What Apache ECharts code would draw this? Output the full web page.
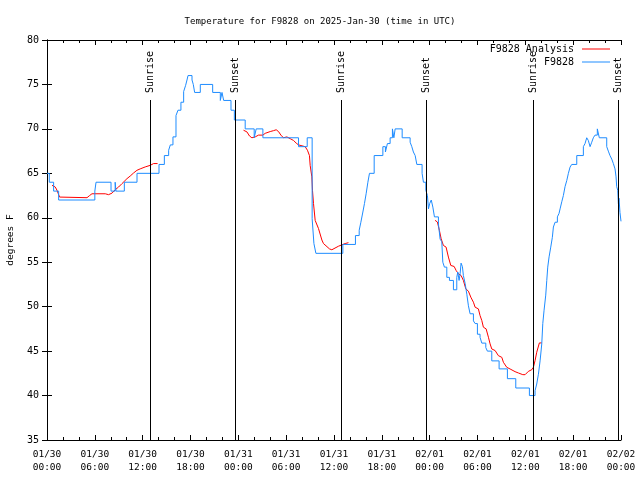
<!DOCTYPE html>
<html>
<head>
<meta charset="utf-8">
<script src="https://cdn.jsdelivr.net/npm/echarts@6/dist/echarts.min.js"></script>
<style>html,body{margin:0;padding:0;background:#fff;}#chart{width:640px;height:480px;}</style>
</head>
<body>
<div id="chart"></div>
<script>
// ---- data (hours since 2025-01-30 00:00 UTC, degrees F) ----
const stationHours = [0,0.29,0.83,1.46,6.0,6.15,8.03,8.55,8.65,9.7,11.29,14.05,14.72,15.26,15.47,15.8,16.18,16.43,16.8,17.14,17.39,17.56,17.69,18.19,18.35,18.52,19.23,20.78,21.74,21.95,22.16,23.08,23.5,
24.86,25.99,26.24,27.08,31.55,32.64,33.26,33.48,33.73,37.11,38.69,39.16,39.37,39.62,39.82,40.03,40.25,40.45,41.04,42.13,42.45,42.7,43.04,43.33,43.51,43.67,44.55,45.55,45.76,45.96,46.18,46.39,47.05,47.22,47.52,47.72,
47.85,48.0,48.2,48.4,48.6,49.1,49.31,49.52,49.65,49.85,50.15,50.48,50.98,51.4,51.53,51.69,51.82,51.94,52.11,52.23,52.45,52.66,52.86,53.07,53.49,53.7,53.99,54.32,54.54,55.04,55.24,55.79,56.71,57.75,58.8,60.51,
61.22,61.43,61.64,61.85,62.06,62.19,62.35,62.56,62.69,62.81,62.98,63.19,63.39,63.52,63.73,64.02,64.23,64.36,64.57,64.77,64.98,65.2,65.4,65.61,65.82,66.45,67.28,67.49,67.7,67.9,68.12,68.33,68.53,68.74,69.03,69.28,
70.21,70.41,70.62,70.84,71.04,71.25,71.38,71.46,71.59,71.67,71.75,71.87,72.0];
const stationTemps = [65,64,63,62,63,64,63,64,63,64,65,66,67,67.6,68.2,69.1,71.5,72.1,73.0,74.2,74.9,75.5,76,75.5,75.0,74.1,75,74.1,73.2,74.1,73.2,72.1,71,
70,69,70,69,68,69,59.9,57.1,56,57,58,58.6,59.5,60.65,61.6,62.7,64,65,67,68,67.4,68.35,69,70,69,70,69,68.5,68,67.4,67,66,65,64,63.1,62.5,
61.0,61.6,62.0,61.2,60.1,59.3,57.6,57.3,55.0,54.45,53.3,52.95,51.9,53.3,53.9,52.95,53.7,54.9,54.5,53.5,52.6,51.4,50.1,49.2,48.4,48.1,46.9,46.55,45.9,45.4,45.0,43.9,43.0,41.9,40.85,40.0,
40.55,41.3,42.4,43.9,45.8,48.1,49.6,51.3,52.95,54.45,55.6,56.7,57.8,58.96,59.5,60.1,60.5,61.0,61.8,62.5,63.5,64.2,65,65.7,66,67,68,68.35,69,68.7,68,68.5,69,69.3,70,69,
68,67.5,67,66.6,66.1,65.5,64.6,63.5,63.1,61.6,62.2,60.6,59.6];

const analysisHours = [0.63,1.04,1.25,1.58,1.76,5.02,5.34,5.64,7.31,7.72,8.15,8.56,8.98,9.4,10.03,10.44,10.86,11.28,11.69,12.32,12.95,13.37,13.87,
19.0,
24.65,25.08,25.4,25.7,26.12,26.53,27.08,27.37,28.0,28.41,28.75,29.04,29.34,29.66,30.09,30.5,30.92,31.26,31.54,32.38,32.67,32.92,33.01,33.22,33.3,33.43,33.64,34.05,34.48,34.68,35.43,35.73,36.56,37.4,37.81,
43.0,
48.68,48.97,49.22,49.44,49.72,50.06,50.35,50.65,51.07,51.32,51.6,51.94,52.23,52.53,52.86,53.16,53.49,53.7,54.11,54.32,54.54,54.74,55.08,55.37,55.58,55.79,56.21,56.62,57.05,57.25,57.67,58.09,58.71,59.13,59.68,59.97,60.38,60.81,61.01,61.22,61.43,61.76,62.06];
const analysisTemps = [63.65,63.46,63.1,62.33,62.26,62.26,62.5,62.7,62.7,62.6,62.77,63.16,63.46,63.84,64.4,64.7,65.04,65.34,65.5,65.72,65.9,66.1,66.1,
null,
69.85,69.66,69.2,69.0,69.1,69.3,69.3,69.5,69.7,69.8,69.9,69.7,69.3,69.0,69.1,68.9,68.7,68.4,68.2,68.0,67.6,67.0,65.9,64.6,63.1,61.6,59.7,58.8,57.5,57.1,56.5,56.4,56.8,57.1,57.2,
null,
59.71,59.52,58.58,57.64,56.89,56.70,55.58,54.64,54.52,54.07,53.70,53.51,52.95,52.01,51.74,51.07,50.50,49.94,49.75,49.0,48.44,47.69,47.50,46.56,45.81,45.24,45.06,44.49,44.30,43.74,43.18,42.99,42.69,42.54,42.35,42.35,42.72,42.91,43.18,43.93,44.87,45.92,45.92];

const sunHours = [12.95, 23.52, 36.94, 47.6, 61.0, 71.63];
const sunNames = ['Sunrise','Sunset','Sunrise','Sunset','Sunrise','Sunset'];

const xMin = 0, xMax = 72, xStep = 6;
const yMin = 35, yMax = 80, yStep = 5;
const baseMs = Date.UTC(2025, 0, 30);

// ---- chart ----
const FONT = '"DejaVu Sans Mono", monospace';
function pad(n){ return (n < 10 ? '0' : '') + n; }
function fmtHour(h){
  const d = new Date(baseMs + h * 3600000);
  return pad(d.getUTCMonth()+1) + '/' + pad(d.getUTCDate()) + '\n' + pad(d.getUTCHours()) + ':' + pad(d.getUTCMinutes());
}
const chart = echarts.init(document.getElementById('chart'), null, {renderer: 'canvas'});
const tickCommon = {show: true, inside: true, length: 5, lineStyle: {color: '#000', width: 1}};
const option = {
  animation: false,
  backgroundColor: '#fff',
  title: {
    text: 'Temperature for F9828 on 2025-Jan-30 (time in UTC)',
    left: 'center', top: 12,
    textStyle: {fontFamily: FONT, fontSize: 9, fontWeight: 'normal', color: '#000'}
  },
  legend: {
    data: ['F9828 Analysis', 'F9828'],
    orient: 'vertical', right: 30, top: 43, align: 'right', padding: 0, itemGap: 1,
    itemWidth: 28, itemHeight: 1, icon: 'rect',
    textStyle: {fontFamily: FONT, fontSize: 10, color: '#000', lineHeight: 12, padding: [0, 3, 0, 0]}
  },
  grid: {left: 47, right: 19, top: 40, bottom: 40, containLabel: false, outerBoundsMode: 'none'},
  xAxis: [{
    type: 'value', min: xMin, max: xMax, interval: xStep,
    axisLine: {show: true, lineStyle: {color: '#000', width: 1}},
    axisTick: tickCommon,
    minorTick: {show: true, splitNumber: 3, length: 3, lineStyle: {color: '#000', width: 1}},
    splitLine: {show: false},
    axisLabel: {formatter: fmtHour, fontFamily: FONT, fontSize: 9.5, color: '#000', margin: 8, lineHeight: 13}
  }, {
    type: 'value', min: xMin, max: xMax, interval: xStep, position: 'top',
    axisLine: {show: true, lineStyle: {color: '#000', width: 1}},
    axisTick: tickCommon,
    minorTick: {show: true, splitNumber: 3, length: 3, lineStyle: {color: '#000', width: 1}},
    splitLine: {show: false}, axisLabel: {show: false}
  }],
  yAxis: [{
    type: 'value', min: yMin, max: yMax, interval: yStep,
    name: 'degrees F', nameLocation: 'middle', nameRotate: 90, nameGap: 31,
    nameTextStyle: {fontFamily: FONT, fontSize: 9.5, color: '#000'},
    axisLine: {show: true, lineStyle: {color: '#000', width: 1}},
    axisTick: tickCommon,
    splitLine: {show: false},
    axisLabel: {fontFamily: FONT, fontSize: 10, color: '#000', margin: 8}
  }, {
    type: 'value', min: yMin, max: yMax, interval: yStep, position: 'right',
    axisLine: {show: true, lineStyle: {color: '#000', width: 1}},
    axisTick: tickCommon,
    splitLine: {show: false}, axisLabel: {show: false}
  }],
  series: [{
    name: 'F9828 Analysis', type: 'line', xAxisIndex: 0, yAxisIndex: 0,
    data: analysisHours.map((h, i) => [h, analysisTemps[i]]),
    symbol: 'none', showSymbol: false, connectNulls: false,
    lineStyle: {color: '#ff0000', width: 1}, itemStyle: {color: '#ff0000'}
  }, {
    name: 'F9828', type: 'line', xAxisIndex: 0, yAxisIndex: 0, step: 'end',
    data: stationHours.map((h, i) => [h, stationTemps[i]]),
    symbol: 'none', showSymbol: false,
    lineStyle: {color: '#1e8cff', width: 1}, itemStyle: {color: '#1e8cff'}
  }, {
    name: 'sun', type: 'custom', xAxisIndex: 0, yAxisIndex: 0,
    data: sunHours.map(h => [h, yMin]),
    encode: {x: 0, y: 1},
    z: 5,
    renderItem: function (params, api) {
      const h = api.value(0);
      const pb = api.coord([h, yMin]);
      const pt = api.coord([h, yMax]);
      const x = Math.round(pb[0]) + 0.5;
      const lineTop = pt[1] + 60;
      return {type: 'group', children: [
        {type: 'line', shape: {x1: x, y1: pb[1], x2: x, y2: lineTop}, style: {stroke: '#000', lineWidth: 1}},
        {type: 'text', x: x, y: lineTop - 7, rotation: Math.PI / 2,
         style: {text: sunNames[params.dataIndex], font: '10px ' + FONT, fill: '#000', align: 'left', verticalAlign: 'middle'}}
      ]};
    }
  }]
};
chart.setOption(option);
</script>
</body>
</html>
